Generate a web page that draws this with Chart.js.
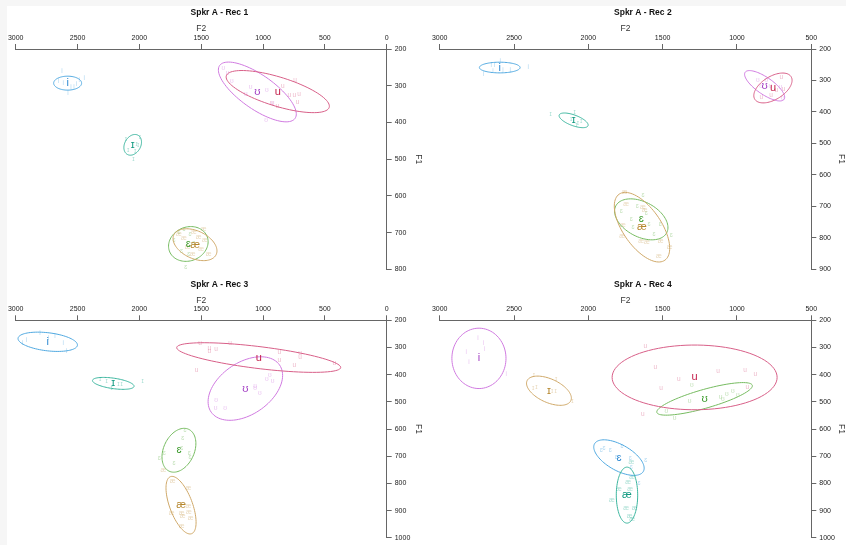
<!DOCTYPE html>
<html>
<head>
<meta charset="utf-8">
<script src="https://cdn.jsdelivr.net/npm/chart.js@4/dist/chart.umd.min.js"></script>
<style>
	body { margin: 0; background: #f6f6f6; }
	#page { position: absolute; left: 7px; top: 6px; width: 839px; height: 539px; background: #ffffff; }
	canvas { position: absolute; }
</style>
</head>
<body>
<div id="page"></div>
<canvas id="rec1" width="423" height="278" style="left:0;top:0"></canvas>
<canvas id="rec2" width="423" height="278" style="left:423px;top:0"></canvas>
<canvas id="rec3" width="423" height="273" style="left:0;top:272px"></canvas>
<canvas id="rec4" width="423" height="273" style="left:423px;top:272px"></canvas>
<script>
// vowel order in every array below: i, ɪ, ɛ, æ, ʊ, u
const vowels = ["i", "ɪ", "ɛ", "æ", "ʊ", "u"];

// ---- Rec 1 ----
const rec1MeanF2 = [2580, 2054, 1604, 1550, 1046, 881];
const rec1MeanF1 = [293, 461, 731, 733, 317, 316];
const rec1AxisA = [[113, 0], [-44, -26], [160, 6], [-171, 27], [-305, 72], [-416, 43]];
const rec1AxisB = [[0, 19], [-56, 11], [0, 47], [48, 34], [79, 38], [34, 38]];
const rec1TokF2 = [
	[2626, 2655, 2615, 2553, 2507, 2445, 2577, 2486, 2529],
	[2108, 2022, 2035, 2090, 1995, 2049, 2009],
	[1720, 1680, 1640, 1590, 1560, 1600, 1625, 1660],
	[1680, 1640, 1560, 1520, 1470, 1500, 1440, 1570, 1610, 1480],
	[1321, 1286, 1253, 1138, 1100, 970, 922, 976],
	[841, 741, 788, 747, 709, 720, 885, 930],
];
const rec1TokF1 = [
	[261, 288, 293, 304, 297, 279, 320, 284, 304],
	[447, 458, 479, 475, 440, 500, 461],
	[720, 700, 690, 705, 730, 760, 795, 750],
	[705, 715, 700, 712, 720, 745, 760, 760, 740, 690],
	[252, 267, 288, 322, 305, 313, 347, 395],
	[300, 284, 325, 325, 322, 346, 355, 347],
];

// ---- Rec 2 ----
const rec2MeanF2 = [2596, 2099, 1644, 1639, 814, 758];
const rec2MeanF1 = [259, 427, 742, 767, 317, 324];
const rec2AxisA = [[137, 0], [-97, 17], [-171, 43], [-154, 105], [-131, 43], [-122, -36]];
const rec2AxisB = [[0, 17], [12, 16], [55, 49], [105, 35], [32, 22], [-41, 31]];
const rec2TokF2 = [
	[2704, 2653, 2630, 2641, 2574, 2525, 2404, 2592],
	[2253, 2092, 2070, 2048, 2081, 2115],
	[1633, 1671, 1779, 1711, 1700, 1592, 1516, 1559, 1442, 1610],
	[1756, 1745, 1633, 1621, 1772, 1644, 1606, 1514, 1453, 1525, 1767],
	[859, 837, 776, 709, 691, 803],
	[702, 837, 770, 736, 686],
];
const rec2TokF1 = [
	[279, 253, 250, 271, 266, 266, 259, 240],
	[407, 401, 436, 431, 444, 423],
	[666, 699, 717, 742, 767, 757, 758, 789, 792, 721],
	[657, 693, 703, 712, 797, 813, 816, 813, 831, 859, 760],
	[298, 319, 317, 321, 356, 298],
	[289, 353, 346, 330, 327],
];

// ---- Rec 3 ----
const rec3MeanF2 = [2741, 2211, 1680, 1663, 1143, 1035];
const rec3MeanF1 = [279, 432, 678, 880, 451, 337];
const rec3AxisA = [[-240, 13], [-168, 11], [-79, -77], [-85, 105], [-276, -87], [-663, 37]];
const rec3AxisB = [[9, 33], [6, 19], [-112, 24], [87, 14], [-121, 78], [11, 40]];
const rec3TokF2 = [
	[2911, 2804, 2682, 2615, 2588, 2943, 2736],
	[2318, 2264, 2170, 2143, 2224, 1973],
	[1631, 1650, 1798, 1839, 1658, 1596, 1590, 1720],
	[1806, 1730, 1604, 1658, 1599, 1585, 1739, 1650, 1658, 1604],
	[944, 970, 922, 1065, 1065, 1025, 1380, 1383, 1307],
	[1510, 1435, 1380, 1435, 1267, 869, 869, 701, 701, 747, 424, 1537],
];
const rec3TokF1 = [
	[273, 249, 257, 285, 313, 285, 267],
	[418, 425, 434, 434, 449, 425],
	[603, 633, 688, 709, 669, 690, 702, 724],
	[751, 793, 818, 909, 906, 927, 909, 921, 957, 882],
	[403, 415, 425, 443, 451, 467, 495, 524, 523],
	[285, 301, 308, 315, 285, 319, 346, 322, 334, 364, 358, 383],
];

// ---- Rec 4 ----
const rec4MeanF2 = [2736, 2265, 1794, 1740, 1218, 1285];
const rec4MeanF1 = [340, 459, 705, 843, 489, 410];
const rec4AxisA = [[182, 0], [-147, 37], [-164, 51], [72, 0], [-321, -50], [555, 0]];
const rec4AxisB = [[0, 111], [34, 39], [43, 41], [0, 103], [-18, 33], [0, 119]];
const rec4TokF2 = [
	[2742, 2704, 2697, 2821, 2803, 2552],
	[2366, 2350, 2372, 2216, 2220, 2243, 2108],
	[1895, 1913, 1853, 1774, 1812, 1718, 1711, 1614, 1660],
	[1711, 1705, 1733, 1794, 1718, 1841, 1745, 1689, 1722, 1705],
	[1303, 1319, 1110, 1068, 1027, 994, 1095, 1476, 1419],
	[1617, 1550, 1510, 1391, 1128, 945, 877, 931, 1633],
];
const rec4TokF1 = [
	[267, 285, 306, 319, 354, 400],
	[403, 446, 449, 418, 459, 461, 497],
	[670, 678, 678, 664, 702, 709, 739, 715, 800],
	[721, 778, 797, 822, 822, 860, 891, 891, 921, 931],
	[440, 497, 483, 471, 461, 476, 491, 535, 559],
	[297, 374, 449, 415, 388, 383, 400, 445, 545],
];

// colours: [line, text]
const blue = ["#4fa8e0", "#2f8ad3"];
const teal = ["#3bb59e", "#0f9a80"];
const green = ["#76bb60", "#3a9a2a"];
const tan = ["#cfa868", "#b5862c"];
const violet = ["#d07ae0", "#a33fc4"];
const red = ["#d85f88", "#c4204c"];
const coloursRec123 = [blue, teal, green, tan, violet, red];
const coloursRec4 = [violet, tan, blue, teal, green, red];

const FONT = "'Liberation Sans', Arial, 'DejaVu Sans', sans-serif";
Chart.defaults.font.family = FONT;

const vowelMarks = {
	id: "vowelMarks",
	afterDatasetsDraw(chart) {
		const ctx = chart.ctx;
		const xs = chart.scales.x;
		const ys = chart.scales.y;
		ctx.save();
		ctx.textAlign = "center";
		ctx.textBaseline = "middle";
		// token labels
		chart.data.datasets.forEach((ds, i) => {
			if (ds.kind !== "token") return;
			const meta = chart.getDatasetMeta(i);
			ctx.globalAlpha = 0.45;
			ctx.fillStyle = ds.colour[0];
			ctx.font = "6.5px " + FONT;
			meta.data.forEach((pt) => ctx.fillText(ds.vowel, pt.x, pt.y));
		});
		// ellipses
		chart.data.datasets.forEach((ds) => {
			if (ds.kind !== "mean") return;
			const c = ds.data[0];
			ctx.globalAlpha = 1;
			ctx.strokeStyle = ds.colour[0];
			ctx.lineWidth = 1;
			ctx.beginPath();
			for (let k = 0; k <= 90; k++) {
				const t = (k / 90) * Math.PI * 2;
				const f2 = c.x + ds.axisA[0] * Math.cos(t) + ds.axisB[0] * Math.sin(t);
				const f1 = c.y + ds.axisA[1] * Math.cos(t) + ds.axisB[1] * Math.sin(t);
				const px = xs.getPixelForValue(f2);
				const py = ys.getPixelForValue(f1);
				if (k === 0) ctx.moveTo(px, py);
				else ctx.lineTo(px, py);
			}
			ctx.stroke();
		});
		// mean labels
		chart.data.datasets.forEach((ds, i) => {
			if (ds.kind !== "mean") return;
			const pt = chart.getDatasetMeta(i).data[0];
			ctx.globalAlpha = 1;
			ctx.fillStyle = ds.colour[1];
			ctx.font = "11px " + FONT;
			ctx.fillText(ds.vowel, pt.x, pt.y);
		});
		ctx.restore();
	},
};

function buildPanel(id, title, xMin, yMax, meanF2, meanF1, axisA, axisB, tokF2, tokF1, colours, padLeft, yWidth, xHeight, padBottom) {
	const datasets = [];
	vowels.forEach((v, i) => {
		datasets.push({
			kind: "token",
			vowel: v,
			colour: colours[i],
			data: tokF2[i].map((f2, j) => ({ x: f2, y: tokF1[i][j] })),
			pointRadius: 0,
		});
	});
	vowels.forEach((v, i) => {
		datasets.push({
			kind: "mean",
			vowel: v,
			colour: colours[i],
			axisA: axisA[i],
			axisB: axisB[i],
			data: [{ x: meanF2[i], y: meanF1[i] }],
			pointRadius: 0,
		});
	});

	new Chart(document.getElementById(id), {
		type: "scatter",
		data: { datasets: datasets },
		options: {
			responsive: false,
			animation: false,
			layout: { padding: { left: padLeft, right: 0, top: 0, bottom: padBottom } },
			plugins: {
				legend: { display: false },
				tooltip: { enabled: false },
				title: {
					display: true,
					text: title,
					color: "#111111",
					font: { size: 8.5, weight: "bold" },
					padding: { top: 8, bottom: 5 },
				},
			},
			scales: {
				x: {
					type: "linear",
					position: "top",
					reverse: true,
					min: xMin,
					max: 3000,
					afterFit: (s) => { s.height = xHeight; },
					title: { display: true, text: "F2", color: "#333333", font: { size: 8.5 }, padding: 0 },
					ticks: {
						stepSize: 500,
						color: "#222222",
						font: { size: 7 },
						padding: 2,
						maxRotation: 0,
						callback: (v) => String(v),
					},
					grid: { drawOnChartArea: false, drawTicks: true, tickLength: 5, color: "#666666" },
					border: { display: true, color: "#666666" },
				},
				y: {
					type: "linear",
					position: "right",
					reverse: true,
					min: 200,
					max: yMax,
					afterFit: (s) => { s.width = yWidth; },
					title: { display: true, text: "F1", color: "#333333", font: { size: 8.5 }, padding: 0 },
					ticks: {
						stepSize: 100,
						color: "#222222",
						font: { size: 7 },
						padding: 3,
						callback: (v) => String(v),
					},
					grid: { drawOnChartArea: false, drawTicks: true, tickLength: 5, color: "#666666" },
					border: { display: true, color: "#666666" },
				},
			},
		},
		plugins: [vowelMarks],
	});
}

buildPanel("rec1", "Spkr A - Rec 1", 0, 800, rec1MeanF2, rec1MeanF1, rec1AxisA, rec1AxisB, rec1TokF2, rec1TokF1, coloursRec123, 15.7, 36.3, 25.8, 8.7);
buildPanel("rec2", "Spkr A - Rec 2", 500, 900, rec2MeanF2, rec2MeanF1, rec2AxisA, rec2AxisB, rec2TokF2, rec2TokF1, coloursRec123, 16.7, 34.7, 25.8, 9);
buildPanel("rec3", "Spkr A - Rec 3", 0, 1000, rec3MeanF2, rec3MeanF1, rec3AxisA, rec3AxisB, rec3TokF2, rec3TokF1, coloursRec123, 15.7, 36.3, 25.1, 5);
buildPanel("rec4", "Spkr A - Rec 4", 500, 1000, rec4MeanF2, rec4MeanF1, rec4AxisA, rec4AxisB, rec4TokF2, rec4TokF1, coloursRec4, 16.7, 34.7, 25.1, 5);
</script>
</body>
</html>
